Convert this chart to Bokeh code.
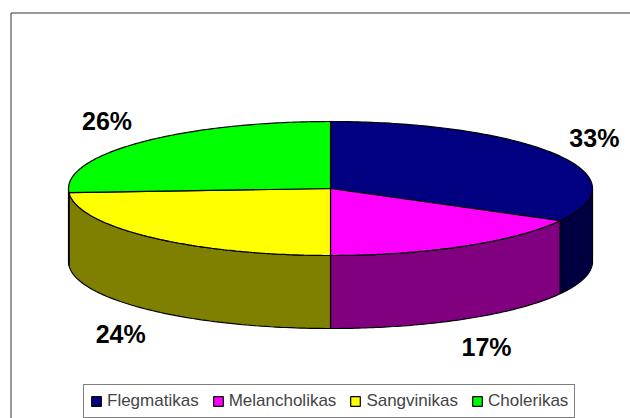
import numpy as np
from bokeh.plotting import figure
from bokeh.models import Range1d, ColumnDataSource
from bokeh.embed import file_html
from bokeh.resources import INLINE
from bokeh.core.properties import value

# ---- data ----
categories = ["Flegmatikas", "Melancholikas", "Sangvinikas", "Cholerikas"]
percents = [33, 17, 24, 26]

# ---- style ----
TOP_COLORS = ["#000080", "#FF00FF", "#FFFF00", "#00FF00"]
SIDE_COLORS = ["#000040", "#800080", "#808000", "#008000"]
FONT = "Liberation Sans"

W, H = 630, 418
CX, CY = 330, 188
RX, RY, DEPTH = 262, 67, 73
KX, KY = 1.17, 1.48

p = figure(width=W, height=H, x_range=Range1d(0, W), y_range=Range1d(H, 0),
           output_backend="svg", toolbar_location=None, min_border=0,
           x_axis_location=None, y_axis_location=None,
           outline_line_color=None, background_fill_color="white")
p.grid.visible = False


def pt(th, dy=0.0):
    return CX + RX * np.sin(th), CY - RY * np.cos(th) + dy


vals = np.array(percents, dtype=float)
fr = vals / vals.sum()
ends = np.cumsum(fr) * 2 * np.pi
starts = ends - fr * 2 * np.pi

# side faces (front half only: angles pi/2 .. 3pi/2)
sxs, sys_, scol = [], [], []
for s, e, c in zip(starts, ends, SIDE_COLORS):
    a, b = max(s, np.pi / 2), min(e, 3 * np.pi / 2)
    if b <= a:
        continue
    th = np.linspace(a, b, 80)
    tx, ty = pt(th)
    bx, by = pt(th[::-1], DEPTH)
    sxs.append(list(tx) + list(bx))
    sys_.append(list(ty) + list(by))
    scol.append(c)
p.patches(sxs, sys_, fill_color=scol, line_color="black", line_width=1.2)

# top slices
txs, tys = [], []
for s, e in zip(starts, ends):
    th = np.linspace(s, e, 120)
    x, y = pt(th)
    txs.append([CX] + list(x))
    tys.append([CY] + list(y))
src = ColumnDataSource(dict(xs=txs, ys=tys, name=categories, color=TOP_COLORS))
p.patches("xs", "ys", source=src, fill_color="color", line_color="black",
          line_width=1.2, legend_field="name")

# labels
mid = (starts + ends) / 2
lx = CX + RX * KX * np.sin(mid)
ly = CY - RY * KY * np.cos(mid) + np.where(np.cos(mid) < 0, DEPTH, 0)
labels = [f"{v:g}%" for v in percents]
p.text(lx, ly, text=labels, text_font=value(FONT), text_font_style="bold",
       text_font_size="25px", text_align="center", text_baseline="middle",
       text_color="black")

# chart-area border (continues past right/bottom of view)
p.line([10.5, 10.5, W + 20], [H + 20, 12.5, 12.5], line_color="#333333", line_width=1)

lg = p.legend[0]
lg.orientation = "horizontal"
lg.location = (83, 0)
lg.label_text_font = FONT
lg.label_text_font_size = "17px"
lg.glyph_width = 12
lg.glyph_height = 12
lg.label_standoff = 5
lg.spacing = 13
lg.padding = 6
lg.margin = 0
lg.label_height = 17
lg.border_line_color = "black"
lg.border_line_width = 1
lg.background_fill_color = "white"
lg.background_fill_alpha = 1

open("out.html", "w").write(file_html(p, INLINE))
